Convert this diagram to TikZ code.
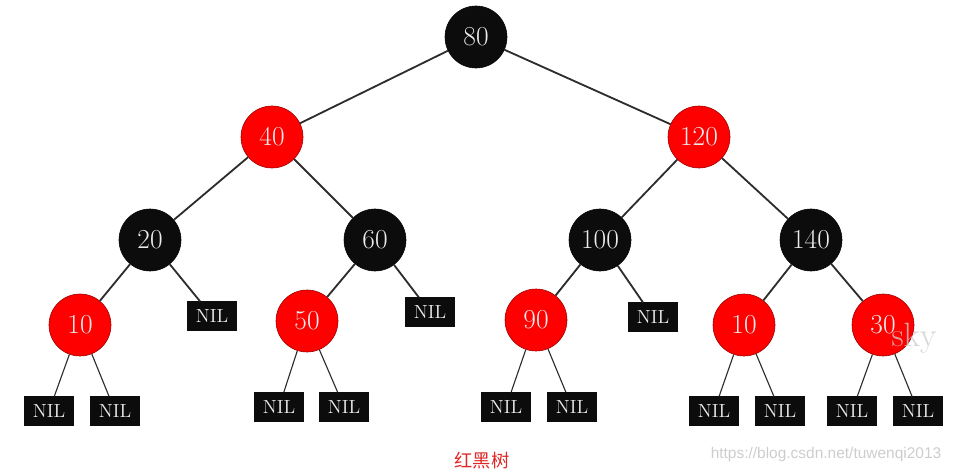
\documentclass[tikz,border=0pt]{standalone}
\usepackage{fontspec}
\newfontfamily\cjkfont{Noto Sans CJK SC}
\newfontfamily\markfont{Liberation Sans}
\usetikzlibrary{positioning}
\definecolor{rbred}{RGB}{255,0,0}
\definecolor{rbblack}{RGB}{12,12,12}
\definecolor{edgegray}{RGB}{45,45,45}
\definecolor{captred}{RGB}{222,40,40}
\definecolor{markgray}{RGB}{205,205,205}
\tikzset{
  rnode/.style={circle, draw=#1!60!black, fill=#1, minimum size=1.55cm, inner sep=0pt,
    text=white!92!black, font=\fontsize{19.5}{21}\selectfont},
  nilbox/.style={draw=rbblack, fill=rbblack, minimum width=1.22cm, minimum height=0.72cm,
    inner sep=0pt, text=white!92!black, font=\fontsize{13.5}{15}\selectfont},
  edge/.style={draw=edgegray, line width=1.3pt},
  leafedge/.style={draw=edgegray, line width=0.8pt},
}

\begin{document}
\begin{tikzpicture}[x=0.025cm, y=-0.025cm]
\useasboundingbox (0,0) rectangle (954,473);

% ============================================================ inner nodes
\node[rnode=rbblack] (n80)  at (476, 37)  {80};
\node[rnode=rbred]   (n40)  at (272, 137) {40};
\node[rnode=rbred]   (n120) at (699, 137) {120};
\node[rnode=rbblack] (n20)  at (150, 240) {20};
\node[rnode=rbblack] (n60)  at (375, 240) {60};
\node[rnode=rbblack] (n100) at (600, 240) {100};
\node[rnode=rbblack] (n140) at (811, 240) {140};
\node[rnode=rbred]   (n10a) at (80, 325)  {10};
\node[rnode=rbred]   (n50)  at (307, 321) {50};
\node[rnode=rbred]   (n90)  at (536, 320) {90};
\node[rnode=rbred]   (n10b) at (744, 325) {10};
\node[rnode=rbred]   (n30)  at (883, 325) {30};

% ============================================================ NIL leaves
\node[nilbox] (nil20)  at (212, 316) {NIL};
\node[nilbox] (nil60)  at (430, 312) {NIL};
\node[nilbox] (nil100) at (653, 317) {NIL};
\node[nilbox] (nil10aL) at (49, 411)  {NIL};
\node[nilbox] (nil10aR) at (115, 411) {NIL};
\node[nilbox] (nil50L)  at (279, 407) {NIL};
\node[nilbox] (nil50R)  at (344, 407) {NIL};
\node[nilbox] (nil90L)  at (506, 407) {NIL};
\node[nilbox] (nil90R)  at (572, 407) {NIL};
\node[nilbox] (nil10bL) at (714, 411) {NIL};
\node[nilbox] (nil10bR) at (780, 411) {NIL};
\node[nilbox] (nil30L)  at (852, 411) {NIL};
\node[nilbox] (nil30R)  at (918, 411) {NIL};

% ============================================================ edges
\draw[edge] (n80) -- (n40);
\draw[edge] (n80) -- (n120);
\draw[edge] (n40) -- (n20);
\draw[edge] (n40) -- (n60);
\draw[edge] (n120) -- (n100);
\draw[edge] (n120) -- (n140);
\draw[edge] (n20) -- (n10a);
\draw[edge] (n20) -- (nil20);
\draw[edge] (n60) -- (n50);
\draw[edge] (n60) -- (nil60);
\draw[edge] (n100) -- (n90);
\draw[edge] (n100) -- (nil100);
\draw[edge] (n140) -- (n10b);
\draw[edge] (n140) -- (n30);
\draw[leafedge] (n10a) -- (nil10aL);
\draw[leafedge] (n10a) -- (nil10aR);
\draw[leafedge] (n50) -- (nil50L);
\draw[leafedge] (n50) -- (nil50R);
\draw[leafedge] (n90) -- (nil90L);
\draw[leafedge] (n90) -- (nil90R);
\draw[leafedge] (n10b) -- (nil10bL);
\draw[leafedge] (n10b) -- (nil10bR);
\draw[leafedge] (n30) -- (nil30L);
\draw[leafedge] (n30) -- (nil30R);

% ============================================================ caption and marks
\node[text=captred, font=\cjkfont\fontsize{13}{15}\selectfont] (capt) at (482, 461) {红黑树};
\node[text=markgray, opacity=0.8, font=\fontsize{24}{26}\selectfont] (sky) at (914, 338) {sky};
\node[text=markgray, font=\markfont\fontsize{11}{13}\selectfont] (url) at (826, 454)
  {https://blog.csdn.net/tuwenqi2013};

\end{tikzpicture}
\end{document}
